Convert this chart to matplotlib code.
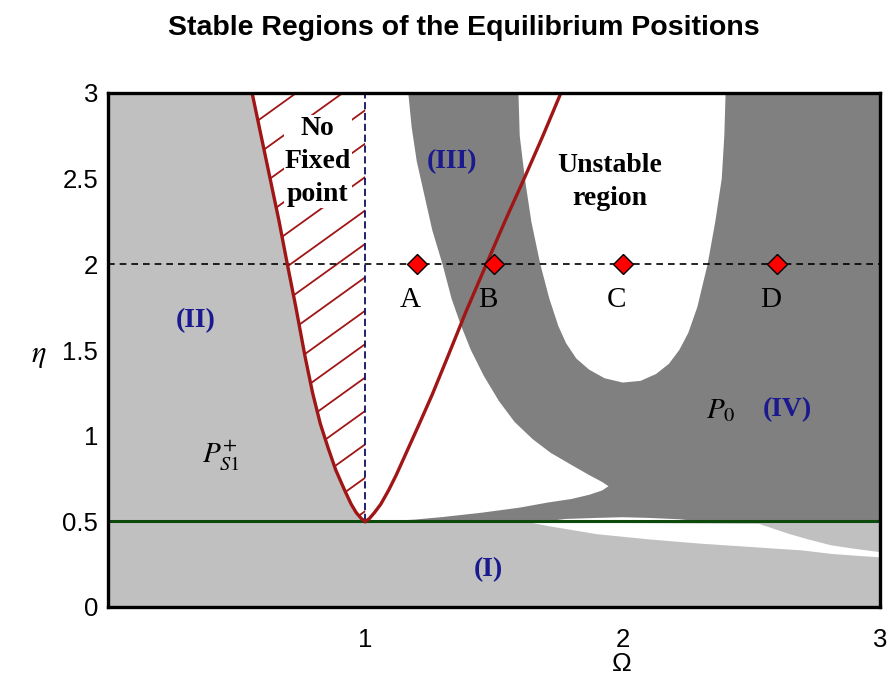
import numpy as np
import matplotlib
matplotlib.use("Agg")
import matplotlib.pyplot as plt
from matplotlib.patches import Polygon
from matplotlib.collections import LineCollection

plt.rcParams["mathtext.fontset"] = "stix"

# ---- boundary curves (Omega, eta) ----
# left branch of the existence boundary (top -> vertex)
left_branch_x = [0.56, 0.595, 0.63, 0.665, 0.697, 0.73, 0.766, 0.795, 0.825, 0.855, 0.885,
                 0.92, 0.945, 0.965, 0.985, 1.0]
left_branch_y = [3.0, 2.75, 2.5, 2.25, 2.0, 1.75, 1.46, 1.25, 1.07, 0.93, 0.8,
                 0.68, 0.6, 0.55, 0.515, 0.5]
# right branch of the existence boundary (vertex -> top)
right_branch_x = [1.0, 1.015, 1.035, 1.06, 1.09, 1.12, 1.15, 1.18, 1.21, 1.26, 1.32,
                  1.39, 1.47, 1.545, 1.62, 1.69, 1.76]
right_branch_y = [0.5, 0.515, 0.55, 0.6, 0.68, 0.77, 0.87, 0.97, 1.07, 1.24, 1.46,
                  1.72, 2.0, 2.26, 2.51, 2.75, 3.0]

# outer edge of the dark (III)/(IV) band, top -> tip
band_outer_x = [1.167, 1.18, 1.20, 1.23, 1.26, 1.30, 1.335, 1.37, 1.41, 1.46, 1.52,
                1.58, 1.65, 1.72, 1.80, 1.87, 1.92, 1.945]
band_outer_y = [3.0, 2.8, 2.6, 2.4, 2.2, 2.0, 1.8, 1.65, 1.5, 1.35, 1.2,
                1.08, 0.98, 0.90, 0.83, 0.77, 0.73, 0.705]
# lower edge of the white wedge, tip -> vertex
wedge_lower_x = [1.945, 1.92, 1.87, 1.80, 1.71, 1.60, 1.45, 1.30, 1.19, 1.10, 1.0]
wedge_lower_y = [0.705, 0.68, 0.655, 0.63, 0.61, 0.58, 0.55, 0.525, 0.51, 0.503, 0.5]

# unstable region (inner U)
unstable_x = [1.595, 1.60, 1.62, 1.645, 1.68, 1.715, 1.75, 1.78, 1.82, 1.87, 1.93, 2.0,
              2.07, 2.13, 2.18, 2.22, 2.255, 2.29, 2.33, 2.36, 2.385, 2.395, 2.40]
unstable_y = [3.0, 2.75, 2.5, 2.25, 2.0, 1.8, 1.64, 1.54, 1.45, 1.385, 1.335, 1.31,
              1.32, 1.36, 1.42, 1.50, 1.6, 1.75, 2.0, 2.25, 2.5, 2.75, 3.0]

# thin unstable sliver just above eta = 0.5
sliver_x = [1.70, 1.78, 1.90, 2.00, 2.10, 2.22, 2.30]
sliver_y = [0.5, 0.514, 0.52, 0.524, 0.52, 0.512, 0.5]

# unstable wedge below eta = 0.5
low_wedge_top_x = [1.65, 2.0, 2.53, 2.58, 2.65, 2.72, 2.81, 2.9, 3.0]
low_wedge_top_y = [0.49, 0.49, 0.485, 0.46, 0.425, 0.395, 0.36, 0.34, 0.32]
low_wedge_bot_x = [3.0, 2.9, 2.81, 2.7, 2.5, 2.3, 2.1, 2.0, 1.9, 1.8, 1.72, 1.65]
low_wedge_bot_y = [0.29, 0.30, 0.31, 0.33, 0.35, 0.37, 0.395, 0.41, 0.425, 0.45, 0.47, 0.49]

# sample points on eta = 2
pt_omega = [1.2, 1.5, 2.0, 2.6]
pt_eta = 2.0
pt_names = ["A", "B", "C", "D"]

eta_critical = 0.5
omega_res = 1.0

x_ticks = [1, 2, 3]
y_ticks = [0, 0.5, 1, 1.5, 2, 2.5, 3]
y_tick_labels = ["0", "0.5", "1", "1.5", "2", "2.5", "3"]

LIGHT = "#c0c0c0"
DARK = "#808080"
RED = "#a01616"
GREEN = "#0b4a0b"
NAVY = "#1a1a8e"

fig = plt.figure(figsize=(8.88, 6.81), dpi=100)
ax = fig.add_axes([108 / 888, 74 / 681, 772 / 888, 514 / 681])
ax.set_xlim(0, 3)
ax.set_ylim(0, 3)
ax.set_facecolor(LIGHT)

# white area right of the left branch, above eta=0.5
white_poly = list(zip(left_branch_x, left_branch_y)) + [(3, 0.5), (3, 3)]
ax.add_patch(Polygon(white_poly, closed=True, facecolor="white", edgecolor="none", zorder=1))

# dark stable band (III) and region (IV)
dark_poly = (list(zip(band_outer_x, band_outer_y)) + list(zip(wedge_lower_x[1:], wedge_lower_y[1:]))
             + [(3, 0.5), (3, 3)])
ax.add_patch(Polygon(dark_poly, closed=True, facecolor=DARK, edgecolor="none", zorder=2))

# unstable regions
ax.add_patch(Polygon(list(zip(unstable_x, unstable_y)), closed=True, facecolor="white",
                     edgecolor="none", zorder=3))
ax.add_patch(Polygon(list(zip(sliver_x, sliver_y)), closed=True, facecolor="white",
                     edgecolor="none", zorder=3))
low_wedge = list(zip(low_wedge_top_x, low_wedge_top_y)) + list(zip(low_wedge_bot_x, low_wedge_bot_y))
ax.add_patch(Polygon(low_wedge, closed=True, facecolor="white", edgecolor="none", zorder=3))

# hatched "no fixed point" region
nofix = list(zip(left_branch_x, left_branch_y)) + [(omega_res, 3.0)]
clip = Polygon(nofix, closed=True, facecolor="none", edgecolor="none", transform=ax.transData)
ax.add_patch(clip)
slope = 1.08
segs = []
for y0 in np.arange(0.56, 3.0 + 1.0, 0.195):
    segs.append([(omega_res - 0.9, y0 - 0.9 * slope), (omega_res, y0)])
lc = LineCollection(segs, colors=RED, linewidths=1.3, zorder=4)
lc.set_clip_path(clip)
ax.add_collection(lc)

# reference lines
ax.plot([0, 3], [pt_eta, pt_eta], ls=(0, (4, 3)), color="black", lw=1.2, zorder=5)
ax.plot([omega_res, omega_res], [eta_critical, 3], ls=(0, (4, 2)), color="#101060", lw=1.3, zorder=5)
ax.plot([0, 3], [eta_critical, eta_critical], color=GREEN, lw=2.2, zorder=6)
ax.plot(left_branch_x, left_branch_y, color=RED, lw=2.4, zorder=6, solid_joinstyle="round")
ax.plot(right_branch_x, right_branch_y, color=RED, lw=2.4, zorder=6, solid_joinstyle="round")

ax.plot(pt_omega, [pt_eta] * len(pt_omega), ls="none", marker="D", ms=10,
        mfc="#ff0000", mec="black", mew=1.0, zorder=7)
for om, name in zip(pt_omega, pt_names):
    ax.text(om - 0.025, pt_eta - 0.21, name, ha="center", va="center",
            fontsize=21, family="Liberation Serif", zorder=8)

# region labels
serif_bold = dict(family="Liberation Serif", fontweight="bold")
ax.text(0.815, 2.6, "No\nFixed\npoint", ha="center", va="center", fontsize=20,
        linespacing=1.42, zorder=8, bbox=dict(facecolor="white", edgecolor="none", pad=0.5),
        **serif_bold)
ax.text(1.335, 2.6, "(III)", ha="center", va="center", fontsize=20, color=NAVY, zorder=8, **serif_bold)
ax.text(1.95, 2.48, "Unstable\nregion", ha="center", va="center", fontsize=20,
        linespacing=1.42, zorder=8, **serif_bold)
ax.text(0.34, 1.67, "(II)", ha="center", va="center", fontsize=20, color=NAVY, zorder=8, **serif_bold)
ax.text(1.48, 0.22, "(I)", ha="center", va="center", fontsize=20, color=NAVY, zorder=8, **serif_bold)
ax.text(2.64, 1.15, "(IV)", ha="center", va="center", fontsize=20, color=NAVY, zorder=8, **serif_bold)
ax.text(2.38, 1.15, r"$P_0$", ha="center", va="center", fontsize=21, zorder=8)
ax.text(0.44, 0.88, r"$P_{S1}^{+}$", ha="center", va="center", fontsize=21, zorder=8)

# axes styling
ax.set_xticks(x_ticks)
ax.set_yticks(y_ticks)
ax.set_xticklabels([str(v) for v in x_ticks])
ax.set_yticklabels(y_tick_labels)
ax.tick_params(length=0, labelsize=18.5)
ax.tick_params(axis="x", pad=15)
ax.tick_params(axis="y", pad=7)
for lab in ax.get_xticklabels() + ax.get_yticklabels():
    lab.set_family("Liberation Sans")
for sp in ax.spines.values():
    sp.set_linewidth(2.4)
    sp.set_zorder(10)

fig.text(622 / 888, 1 - 664 / 681, "\u03a9", ha="center", va="center", fontsize=19,
         family="Liberation Sans")
fig.text(39 / 888, 1 - 355 / 681, r"$\eta$", ha="center", va="center", fontsize=22)
fig.text(464 / 888, 1 - 28 / 681, "Stable Regions of the Equilibrium Positions",
         ha="center", va="center", fontsize=20.5, fontweight="bold", family="Liberation Sans")

fig.savefig("out.png", dpi=100, facecolor="white")
